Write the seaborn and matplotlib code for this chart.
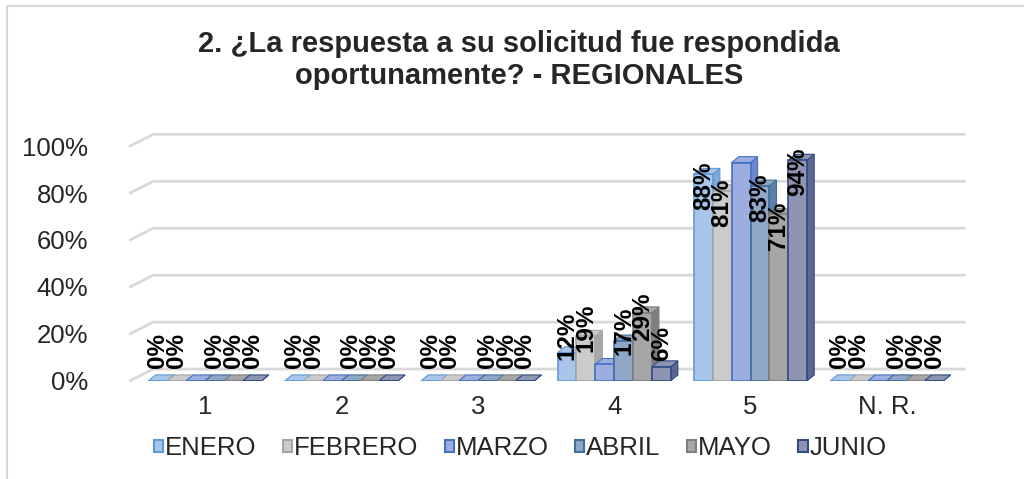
import numpy as np
import pandas as pd
import matplotlib
matplotlib.use("Agg")
import matplotlib.pyplot as plt
from matplotlib.patches import Polygon, Rectangle
import seaborn as sns

# data
categories = ["1", "2", "3", "4", "5", "N. R."]
months = ["ENERO", "FEBRERO", "MARZO", "ABRIL", "MAYO", "JUNIO"]
enero = [0.00, 0.00, 0.00, 0.12, 0.88, 0.00]
febrero = [0.00, 0.00, 0.00, 0.19, 0.81, 0.00]
marzo = [0.00, 0.00, 0.00, 0.07, 0.93, 0.00]
abril = [0.00, 0.00, 0.00, 0.17, 0.83, 0.00]
mayo = [0.00, 0.00, 0.00, 0.29, 0.71, 0.00]
junio = [0.00, 0.00, 0.00, 0.06, 0.94, 0.00]
labelled = ["ENERO", "FEBRERO", "ABRIL", "MAYO", "JUNIO"]  # MARZO has no data labels

face_colors = ["#A9C6EA", "#CBCBCB", "#9DADE0", "#8FA6C6", "#A6A6A6", "#8E95B1"]
edge_colors = ["#5B9BD5", "#A5A5A5", "#4472C4", "#3F6E9C", "#7F7F7F", "#2F4A85"]
side_colors = ["#7FA8D6", "#A8A8A8", "#6F86CC", "#5F7FA8", "#7E7E7E", "#5C6690"]

series = [enero, febrero, marzo, abril, mayo, junio]
df = pd.DataFrame({
    "cat": np.tile(categories, len(months)),
    "mes": np.repeat(months, len(categories)),
    "val": np.concatenate(series),
})

sns.set_style("white")
plt.rcParams["font.family"] = ["Liberation Sans", "DejaVu Sans"]

fig = plt.figure(figsize=(10.24, 4.79), dpi=100)
ax = fig.add_axes([0.127, 0.205, 0.815, 0.49])

sns.barplot(data=df, x="cat", y="val", hue="mes", hue_order=months,
            order=categories, palette=face_colors, width=0.83,
            saturation=1, ax=ax, zorder=3)

xlo, xhi = -0.55, 5.57
ax.set_ylim(0, 1)
ax.set_xlim(xlo, xhi)

# back wall gridlines with the little perspective stub on the left
yt = np.arange(0, 1.01, 0.2)
for t in yt:
    ax.plot([xlo, xlo + 0.17, xhi], [t, t + 0.05, t + 0.05], color="#D9D9D9",
            lw=2, zorder=1, clip_on=False, solid_joinstyle="miter")

# pseudo 3d faces + edges from the drawn bars
dx, dy = 0.052, 0.025
for k, cont in enumerate(ax.containers):
    for bar in cont:
        bar.set_edgecolor(edge_colors[k])
        bar.set_linewidth(1.2)
        x0, w, h = bar.get_x(), bar.get_width(), bar.get_height()
        top = Polygon([(x0, h), (x0 + dx, h + dy), (x0 + w + dx, h + dy), (x0 + w, h)],
                      closed=True, facecolor=face_colors[k], edgecolor=edge_colors[k],
                      lw=0.8, zorder=2)
        side = Polygon([(x0 + w, 0), (x0 + w + dx, dy), (x0 + w + dx, h + dy), (x0 + w, h)],
                       closed=True, facecolor=side_colors[k], edgecolor=edge_colors[k],
                       lw=0.8, zorder=2)
        ax.add_patch(side)
        ax.add_patch(top)

    if months[k] in labelled:
        for bar in cont:
            v = bar.get_height()
            yc = v / 2 + 0.13 if v < 0.5 else v - 0.05
            ax.text(bar.get_x() + bar.get_width() / 2, yc, f"{v * 100:.0f}%",
                    rotation=90, ha="center", va="center", fontsize=17.5,
                    fontweight="bold", color="black", zorder=5, clip_on=False)

ax.set_yticks(yt)
ax.set_yticklabels([f"{t:.0f}%" for t in np.arange(0, 101, 20)], fontsize=18.5)
ax.set_xticks(range(len(categories)))
ax.set_xticklabels(categories, fontsize=18.5)
ax.tick_params(axis="x", length=0, pad=10)
ax.tick_params(axis="y", length=0, pad=30)
ax.set_xlabel("")
ax.set_ylabel("")
ax.grid(False)
for s in ax.spines.values():
    s.set_visible(False)

handles = [Rectangle((0, 0), 1, 1, facecolor=face_colors[i], edgecolor=edge_colors[i], lw=1.5)
           for i in range(len(months))]
ax.legend(handles, months, ncol=6, loc="center", bbox_to_anchor=(0.508, 0.064),
          bbox_transform=fig.transFigure, frameon=False, fontsize=18.5,
          handlelength=0.36, handleheight=0.36, handletextpad=0.08, columnspacing=1.02)

fig.text(0.507, 0.875, "2. ¿La respuesta a su solicitud fue respondida\noportunamente? - REGIONALES",
         ha="center", va="center", fontsize=21, fontweight="bold", linespacing=1.15)

# chart border
fig.add_artist(Rectangle((0.007, -0.1), 1.1, 1.088, transform=fig.transFigure,
                         fill=False, edgecolor="#D9D9D9", lw=1.5))

fig.savefig("out.png", dpi=100, facecolor="white")
